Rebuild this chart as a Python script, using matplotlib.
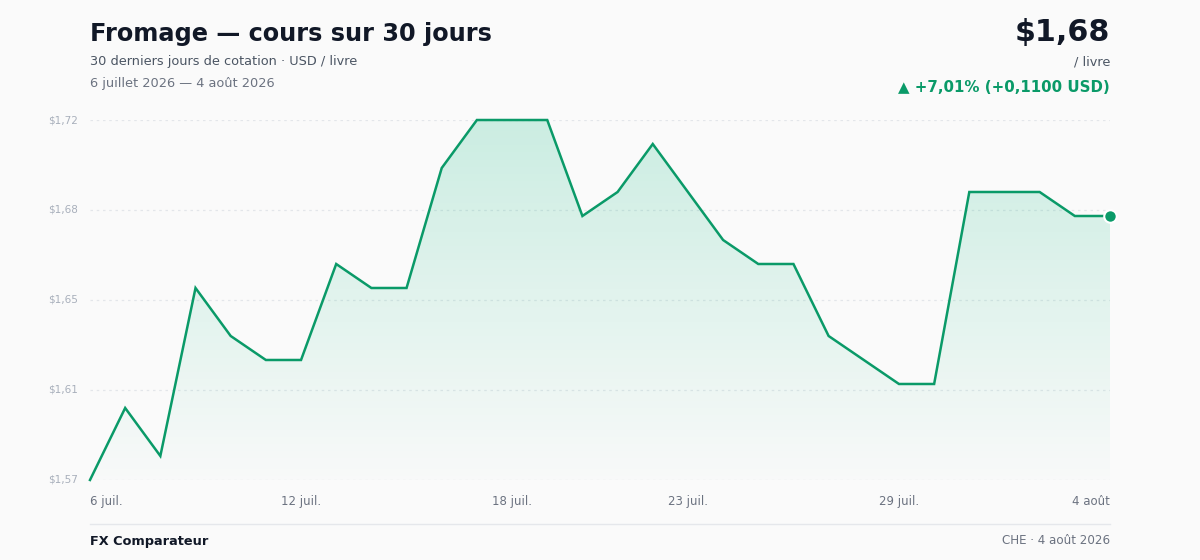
import matplotlib.pyplot as plt
import numpy as np
from matplotlib.patches import Polygon

plt.rcParams['font.family'] = ['DejaVu Sans']

# daily prices, 6 juil. -> 4 août 2026 (USD / livre)
days = list(range(30))
prices = [1.57, 1.60, 1.58, 1.65, 1.63, 1.62, 1.62, 1.66, 1.65, 1.65,
          1.70, 1.72, 1.72, 1.72, 1.68, 1.69, 1.71, 1.69, 1.67, 1.66,
          1.66, 1.63, 1.62, 1.61, 1.61, 1.69, 1.69, 1.69, 1.68, 1.68]
tick_pos = [0, 6, 12, 17, 23, 29]
tick_labels = ['6 juil.', '12 juil.', '18 juil.', '23 juil.', '29 juil.', '4 août']
y_min, y_max = 1.57, 1.72

green = '#0a9a68'
bg = '#fafafa'

fig = plt.figure(figsize=(12, 5.6), dpi=100, facecolor=bg)
ax = fig.add_axes([0.075, 0.1429, 0.85, 0.6428])
ax.set_facecolor(bg)
ax.set_xlim(0, 29)
ax.set_ylim(y_min, y_max)

# grid
grid_vals = np.linspace(y_min, y_max, 5)
for g in grid_vals:
    ax.axhline(g, color='#e3e6ea', lw=0.9, ls=(0, (2, 3)), zorder=0)

# gradient fill under the line
poly = Polygon([(0, y_min)] + list(zip(days, prices)) + [(29, y_min)],
               closed=True, facecolor='none', edgecolor='none')
ax.add_patch(poly)
grad = np.zeros((100, 2, 4))
grad[..., 0] = 0x10 / 255
grad[..., 1] = 0xb9 / 255
grad[..., 2] = 0x81 / 255
grad[..., 3] = np.linspace(0.2, 0.01, 100)[:, None]
im = ax.imshow(grad, extent=[0, 29, y_min, y_max], origin='upper',
               aspect='auto', zorder=1)
im.set_clip_path(poly)

ax.plot(days, prices, color=green, lw=1.8, zorder=3, clip_on=False,
        solid_joinstyle='miter')
ax.plot([days[-1]], [prices[-1]], 'o', color=green, ms=9, mec='white',
        mew=1.5, zorder=4, clip_on=False)

for s in ax.spines.values():
    s.set_visible(False)
ax.set_xticks([])
ax.set_yticks([])

# y labels
for g in grid_vals:
    ax.text(-0.35, g, '$' + f'{g:.2f}'.replace('.', ','), ha='right', va='center',
            fontsize=7.5, color='#a8afbb')

# x labels
for p, lab in zip(tick_pos, tick_labels):
    ha = 'left' if p == 0 else ('right' if p == 29 else 'center')
    ax.text(p, y_min - 0.0088, lab, ha=ha, va='center', fontsize=8.5,
            color='#6b7280')

# header
fig.text(90 / 1200, 1 - 34 / 560, 'Fromage — cours sur 30 jours', fontsize=17.3,
         fontweight='bold', color='#111827', va='center')
fig.text(90 / 1200, 1 - 62 / 560, '30 derniers jours de cotation · USD / livre',
         fontsize=9.25, color='#4b5563', va='center')
fig.text(90 / 1200, 1 - 83 / 560, '6 juillet 2026 — 4 août 2026',
         fontsize=9.25, color='#6b7280', va='center')
fig.text(1110 / 1200, 1 - 33 / 560, '$1,68', fontsize=21.7, fontweight='bold',
         color='#111827', ha='right', va='center')
fig.text(1110 / 1200, 1 - 62 / 560, '/ livre', fontsize=9.25, color='#4b5563',
         ha='right', va='center')
fig.text(1110 / 1200, 1 - 87 / 560, '▲ +7,01% (+0,1100 USD)', fontsize=10.85,
         fontweight='bold', color=green, ha='right', va='center')

# footer
fig.add_artist(plt.Line2D([90 / 1200, 1110 / 1200], [1 - 524 / 560, 1 - 524 / 560],
                          color='#e5e7eb', lw=1))
fig.text(90 / 1200, 1 - 541 / 560, 'FX Comparateur', fontsize=9.3,
         fontweight='bold', color='#111827', va='center')
fig.text(1110 / 1200, 1 - 541 / 560, 'CHE · 4 août 2026', fontsize=8.6,
         color='#6b7280', ha='right', va='center')

fig.savefig('out.png', dpi=100, facecolor=bg)
